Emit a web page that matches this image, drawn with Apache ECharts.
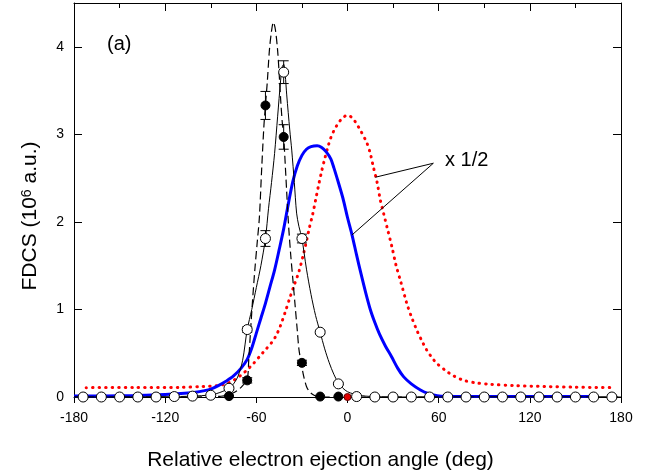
<!DOCTYPE html>
<html>
<head>
<meta charset="utf-8">
<script src="https://cdn.jsdelivr.net/npm/echarts@6/dist/echarts.min.js"></script>
<style>
  html, body { margin: 0; padding: 0; background: #fff; }
  #chart { width: 648px; height: 476px; }
</style>
</head>
<body>
<div id="chart"></div>
<script>
// Measured FDCS, open circles (angle in deg, value in 10^6 a.u., error)
const openAngles = [-174, -162, -150, -138, -126, -114, -102, -90, -78, -66, -54, -42, -30, -18, -6,
  6, 18, 30, 42, 54, 66, 78, 90, 102, 114, 126, 138, 150, 162, 174];
const openValues = [0, 0, 0, 0, 0, 0.005, 0.01, 0.02, 0.1, 0.77, 1.81, 3.71, 1.81, 0.74, 0.15,
  0.005, 0, 0, 0, 0, 0, 0, 0, 0, 0, 0, 0, 0, 0, 0];
const openErrors = [0, 0, 0, 0, 0, 0, 0, 0, 0.02, 0.03, 0.09, 0.13, 0.05, 0.02, 0.01,
  0, 0, 0, 0, 0, 0, 0, 0, 0, 0, 0, 0, 0, 0, 0];

// Measured FDCS, filled circles
const filledAngles = [-78, -66, -54, -42, -30, -18, -6];
const filledValues = [0.01, 0.19, 3.33, 2.97, 0.39, 0.005, 0.005];
const filledErrors = [0.01, 0.03, 0.16, 0.14, 0.03, 0, 0];

// Single red point at 0 deg
const redPoint = [[0, 0]];

// Thin solid curve through the open circles
const solidCurve = [
  [-180, 0], [-150, 0], [-120, 0.003], [-110, 0.006], [-102, 0.01], [-96, 0.015], [-90, 0.025],
  [-86, 0.04], [-82, 0.065], [-78, 0.1], [-75, 0.15], [-72, 0.24], [-69, 0.42], [-66, 0.77],
  [-63, 1.0], [-60, 1.25], [-57, 1.5], [-54, 1.81], [-52, 2.15], [-50, 2.45], [-48, 2.78],
  [-46, 3.2], [-44, 3.62], [-43, 3.77], [-42, 3.8], [-41, 3.68], [-40, 3.45], [-38, 3.05],
  [-36.7, 2.82], [-35, 2.45], [-33.5, 2.1], [-32, 1.95], [-30, 1.81], [-27, 1.46], [-24, 1.17],
  [-21, 0.93], [-18, 0.74], [-15, 0.55], [-12, 0.39], [-9, 0.26], [-6, 0.16], [-3, 0.1],
  [0, 0.06], [4, 0.035], [8, 0.02], [12, 0.01], [18, 0.004], [30, 0], [180, 0]
];

// Dashed curve (narrow peak)
const dashedCurve = [
  [-180, 0], [-100, 0], [-90, 0.003], [-84, 0.008], [-80, 0.015], [-76, 0.04], [-72, 0.08],
  [-69, 0.13], [-66, 0.2], [-65, 0.42], [-64, 0.7], [-62.5, 1.1], [-61, 1.45], [-59.5, 1.75],
  [-58, 2.05], [-56.5, 2.6], [-55, 3.1], [-54, 3.33], [-52.7, 3.62], [-51.4, 3.96], [-50, 4.18],
  [-48.8, 4.28], [-47.5, 4.2], [-46, 3.96], [-45, 3.7], [-44, 3.4], [-43, 3.15], [-42, 2.97],
  [-40.5, 2.5], [-39, 2.02], [-37.5, 1.65], [-36, 1.35], [-34.5, 1.05], [-33, 0.75],
  [-32, 0.55], [-30.5, 0.39], [-29, 0.25], [-27, 0.12], [-25, 0.06], [-22, 0.02], [-19, 0.005],
  [-15, 0], [180, 0]
];

// Blue curve (theory, halved)
const blueCurve = [
  [-180, 0.01], [-160, 0.012], [-140, 0.018], [-125, 0.025], [-115, 0.033], [-105, 0.045],
  [-100, 0.055], [-95, 0.07], [-90, 0.09], [-85, 0.13], [-80, 0.18], [-75, 0.24], [-70, 0.33],
  [-66, 0.43], [-63, 0.56], [-60, 0.73], [-57, 0.9], [-54, 1.07], [-51, 1.26], [-48, 1.45],
  [-45, 1.68], [-42, 1.92], [-39, 2.2], [-36, 2.46], [-33, 2.64], [-30, 2.76], [-27, 2.83],
  [-24, 2.86], [-20, 2.87], [-17, 2.85], [-14, 2.8], [-11, 2.72], [-9, 2.62], [-6, 2.45],
  [-3, 2.27], [0, 2.05], [3, 1.85], [6, 1.62], [9, 1.4], [12, 1.19], [15, 1.0], [18, 0.85],
  [21, 0.72], [25, 0.58], [29, 0.46], [33, 0.33], [37, 0.23], [42, 0.15], [48, 0.08],
  [53, 0.04], [59, 0.015], [65, 0.008], [100, 0.005], [162, 0.005]
];

// Red dotted curve (theory, halved)
const redCurve = [
  [-172, 0.107], [-140, 0.108], [-110, 0.11], [-95, 0.12], [-86, 0.13], [-80, 0.15], [-75, 0.19],
  [-70, 0.25], [-66, 0.31], [-62, 0.38], [-58, 0.46], [-54, 0.54], [-50, 0.62], [-47, 0.7],
  [-44, 0.82], [-41, 0.97], [-38, 1.13], [-35, 1.28], [-32, 1.43], [-29, 1.63], [-27, 1.78],
  [-25, 1.94], [-23, 2.08], [-21, 2.25], [-19, 2.42], [-17, 2.58], [-15, 2.72], [-13, 2.85],
  [-11, 2.96], [-9, 3.04], [-6, 3.13], [-3, 3.19], [0, 3.22], [3, 3.19], [6, 3.12], [9, 3.03],
  [12.8, 2.9], [15, 2.78], [17, 2.63], [19.5, 2.45], [21.6, 2.25], [24, 2.08], [26, 1.94],
  [29.3, 1.71], [32, 1.5], [35, 1.32], [39, 1.07], [42, 0.92], [45.7, 0.76], [49, 0.64],
  [52, 0.54], [56, 0.44], [59, 0.38], [65.5, 0.29], [70, 0.24], [76.5, 0.19], [85, 0.16],
  [94, 0.145], [110, 0.13], [130, 0.12], [150, 0.112], [174, 0.107]
];

// Leader lines of the "x 1/2" note: red curve -> vertex -> blue curve
const noteLeader = [[18.3, 2.51], [56.5, 2.67], [2.9, 1.85]];

const xTicks = { min: -180, max: 180, interval: 60 };
const yTicks = { min: 0, max: 4.5, interval: 1 };

function withErrors(angles, values, errors) {
  return angles.map((a, i) => [a, values[i], errors[i]]).filter(d => d[2] > 0);
}
function pairs(angles, values) {
  return angles.map((a, i) => [a, values[i]]);
}

const FONT = 'Arial, "Liberation Sans", sans-serif';

function errorBarItem(params, api) {
  const x = api.value(0), y = api.value(1), e = api.value(2);
  const top = api.coord([x, y + e]);
  const bot = api.coord([x, y - e]);
  const hw = 5;
  const style = { stroke: '#000', lineWidth: 1 };
  return {
    type: 'group',
    children: [
      { type: 'line', shape: { x1: top[0], y1: top[1], x2: bot[0], y2: bot[1] }, style },
      { type: 'line', shape: { x1: top[0] - hw, y1: top[1], x2: top[0] + hw, y2: top[1] }, style },
      { type: 'line', shape: { x1: bot[0] - hw, y1: bot[1], x2: bot[0] + hw, y2: bot[1] }, style }
    ]
  };
}

const chart = echarts.init(document.getElementById('chart'), null, { renderer: 'canvas' });

const axisLine = { show: true, onZero: false, lineStyle: { color: '#000', width: 1 } };

chart.setOption({
  animation: false,
  backgroundColor: '#fff',
  grid: { left: 74, right: 27, top: 3, bottom: 79, containLabel: false },
  xAxis: [
    {
      type: 'value', position: 'bottom', min: xTicks.min, max: xTicks.max, interval: xTicks.interval,
      axisLine, splitLine: { show: false },
      axisTick: { show: true, inside: false, length: 6, lineStyle: { color: '#000' } },
      axisLabel: { color: '#000', fontSize: 14, fontFamily: FONT, margin: 14 },
      name: 'Relative electron ejection angle (deg)',
      nameLocation: 'middle', nameGap: 53,
      nameTextStyle: { color: '#000', fontSize: 21, fontFamily: FONT, padding: [0, 54, 0, 0] }
    },
    {
      type: 'value', position: 'top', min: xTicks.min, max: xTicks.max, interval: xTicks.interval,
      axisLine, splitLine: { show: false },
      axisTick: { show: true, inside: true, length: 8, lineStyle: { color: '#000' } },
      minorTick: { show: true, splitNumber: 2, length: 5, lineStyle: { color: '#000' } },
      axisLabel: { show: false }
    }
  ],
  yAxis: [
    {
      type: 'value', position: 'left', min: yTicks.min, max: yTicks.max, interval: yTicks.interval,
      axisLine, splitLine: { show: false },
      axisTick: { show: true, inside: true, length: 8, lineStyle: { color: '#000' } },
      axisLabel: { color: '#000', fontSize: 14, fontFamily: FONT, margin: 10, showMaxLabel: false,
        formatter: v => (Number.isInteger(v) ? String(v) : '') },
      name: 'FDCS (10{sup|6} a.u.)',
      nameLocation: 'middle', nameGap: 33, nameRotate: 90,
      nameTextStyle: {
        color: '#000', fontSize: 21, fontFamily: FONT, padding: [0, 32, 0, 0],
        rich: { sup: { fontSize: 14, fontFamily: FONT, color: '#000', verticalAlign: 'top', lineHeight: 12 } }
      }
    },
    {
      type: 'value', position: 'right', min: yTicks.min, max: yTicks.max, interval: yTicks.interval,
      axisLine, splitLine: { show: false },
      axisTick: { show: true, inside: true, length: 8, lineStyle: { color: '#000' } },
      axisLabel: { show: false }
    }
  ],
  series: [
    {
      name: 'red-theory', type: 'line', data: redCurve, showSymbol: false, smooth: 0.3,
      lineStyle: { color: '#ff0000', width: 3, type: [0.5, 6], cap: 'round' }, z: 2
    },
    {
      name: 'blue-theory', type: 'line', data: blueCurve, showSymbol: false, smooth: 0.3,
      lineStyle: { color: '#0000ff', width: 3 }, z: 3
    },
    {
      name: 'dashed', type: 'line', data: dashedCurve, showSymbol: false, smooth: 0.3,
      lineStyle: { color: '#000', width: 1.2, type: [8, 4] }, z: 4
    },
    {
      name: 'solid', type: 'line', data: solidCurve, showSymbol: false, smooth: 0.3,
      lineStyle: { color: '#000', width: 1 }, z: 4
    },
    {
      name: 'leader', type: 'line', data: noteLeader, showSymbol: false,
      lineStyle: { color: '#000', width: 1 }, z: 5
    },
    {
      name: 'open-err', type: 'custom', renderItem: errorBarItem,
      data: withErrors(openAngles, openValues, openErrors), z: 6
    },
    {
      name: 'filled-err', type: 'custom', renderItem: errorBarItem,
      data: withErrors(filledAngles, filledValues, filledErrors), z: 6
    },
    {
      name: 'open', type: 'scatter', data: pairs(openAngles, openValues), symbol: 'circle', symbolSize: 10,
      itemStyle: { color: '#fff', borderColor: '#000', borderWidth: 1, opacity: 1 }, z: 7
    },
    {
      name: 'filled', type: 'scatter', data: pairs(filledAngles, filledValues), symbol: 'circle', symbolSize: 9,
      itemStyle: { color: '#000', borderColor: '#000', borderWidth: 1, opacity: 1 }, z: 8
    },
    {
      name: 'red-point', type: 'scatter', data: redPoint, symbol: 'circle', symbolSize: 7,
      itemStyle: { color: '#e00000', borderColor: '#600', borderWidth: 1, opacity: 1 }, z: 9
    }
  ],
  graphic: [
    { type: 'text', left: 107, top: 34, style: { text: '(a)', fontSize: 20, fontFamily: FONT, fill: '#000' } },
    { type: 'text', left: 445, top: 150, style: { text: 'x 1/2', fontSize: 20, fontFamily: FONT, fill: '#000' } }
  ]
});
</script>
</body>
</html>
